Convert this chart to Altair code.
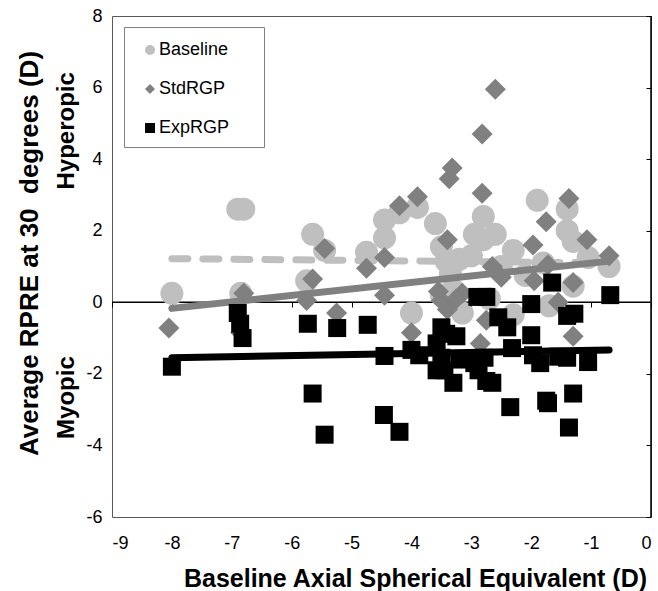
import altair as alt
import pandas as pd

FONT = "Liberation Sans"
NB = "\u00a0"
series_names = ["Baseline", "StdRGP", "ExpRGP"]
series_colors = ["#BFBFBF", "#808080", "#000000"]
series_shapes = ["circle", "diamond", "square"]

baseline_x = [-8.0, -6.9, -6.8, -6.85, -5.65, -5.75, -5.45, -4.75, -4.45, -4.45,
              -4.2, -3.9, -3.6, -3.5, -3.42, -3.35, -3.3, -4.0, -3.15, -2.95,
              -2.8, -2.8, -2.6, -2.5, -2.3, -2.1, -1.9, -1.4, -1.4, -1.3,
              -1.05, -0.7, -1.3, -1.7, -2.3, -3.5, -3.2, -2.7, -1.8, -3.0]
baseline_y = [0.25, 2.6, 2.6, 0.25, 1.9, 0.6, 1.45, 1.4, 2.3, 1.8,
              2.5, 2.65, 2.2, 1.55, 1.15, 0.8, 0.35, -0.3, -0.3, 1.9,
              2.4, 1.75, 1.9, 1.0, 1.45, 0.75, 2.85, 2.6, 2.0, 1.7,
              1.25, 1.0, 0.45, -0.1, -0.35, 0.2, 1.2, 0.1, 1.1, 1.3]

std_x = [-8.05, -6.85, -6.8, -5.65, -5.45, -5.75, -5.25, -4.75, -4.45, -4.45,
         -4.2, -3.9, -3.4, -3.32, -3.37, -2.82, -2.82, -2.6, -4.0, -3.5,
         -3.4, -3.25, -3.15, -2.85, -2.75, -1.75, -1.37, -1.97, -1.07, -0.7,
         -1.72, -1.95, -1.3, -1.55, -1.3, -2.5, -2.65, -3.55]
std_y = [-0.72, -0.85, 0.25, 0.65, 1.5, 0.05, -0.3, 0.95, 1.25, 0.2,
         2.7, 2.95, 1.75, 3.75, 3.45, 4.7, 3.05, 5.95, -0.85, 0.05,
         -0.2, 0.1, 0.25, -1.15, -0.5, 2.25, 2.9, 1.6, 1.75, 1.3,
         1.05, 0.6, 0.55, 0.0, -0.95, 0.7, 1.0, 0.3]

exp_x = [-8.0, -6.9, -6.86, -6.82, -5.73, -5.24, -4.73, -4.45, -5.65, -5.45,
         -4.46, -4.2, -4.0, -3.87, -3.5, -3.42, -3.58, -3.5, -3.58, -3.45,
         -3.3, -3.25, -3.2, -2.88, -2.75, -2.9, -2.75, -0.68, -2.0, -1.4,
         -1.28, -2.0, -2.55, -2.4, -2.32, -2.78, -1.97, -1.85, -1.55, -1.4,
         -1.05, -2.65, -2.35, -1.75, -1.72, -1.3, -1.37, -1.65, -2.95]
exp_y = [-1.8, -0.3, -0.6, -1.0, -0.6, -0.72, -0.63, -1.5, -2.55, -3.7,
         -3.15, -3.62, -1.33, -1.48, -0.7, -0.88, -1.15, -1.55, -1.9, -1.9,
         -2.25, -0.95, -1.6, -1.9, -2.2, 0.15, 0.15, 0.2, -0.05, -0.38,
         -0.32, -0.92, -0.42, -0.7, -1.28, -1.55, -1.48, -1.7, -1.52, -1.55,
         -1.67, -2.25, -2.93, -2.75, -2.82, -2.55, -3.5, 0.55, -1.7]

trend_x = [-8.0, -0.7]
trend_baseline = [1.22, 1.10]
trend_std = [-0.17, 1.15]
trend_exp = [-1.55, -1.33]

x_ticks = [-9, -8, -7, -6, -5, -4, -3, -2, -1, 0]
y_ticks = [-6, -4, -2, 0, 2, 4, 6, 8]

x_title = "Baseline Axial Spherical Equivalent (D)"
y_title_1 = "Average RPRE at 30" + NB + NB + "degrees (D)"
y_title_2 = "Myopic" + NB * 25 + "Hyperopic"

# ---------------------------------------------------------------------------
base_df = pd.DataFrame({"x": baseline_x, "y": baseline_y, "series": "Baseline"})
std_df = pd.DataFrame({"x": std_x, "y": std_y, "series": "StdRGP"})
exp_df = pd.DataFrame({"x": exp_x, "y": exp_y, "series": "ExpRGP"})
tb_df = pd.DataFrame({"x": trend_x, "y": trend_baseline})
ts_df = pd.DataFrame({"x": trend_x, "y": trend_std})
te_df = pd.DataFrame({"x": trend_x, "y": trend_exp})
zero_df = pd.DataFrame({"v": [0]})

x_scale = alt.Scale(domain=[-9, 0], nice=False, zero=False)
y_scale = alt.Scale(domain=[-6, 8], nice=False, zero=False)
color_scale = alt.Scale(domain=series_names, range=series_colors)
shape_scale = alt.Scale(domain=series_names, range=series_shapes)

# an invisible (white) hairline title only serves to give the legend box its width
legend = alt.Legend(
    orient="none", legendX=12, legendY=11,
    title="M" * 72, titleFontSize=2, titleColor="white", titlePadding=2,
    titleLimit=400,
    padding=10, strokeColor="#808080", fillColor="white",
    symbolOffset=7, labelOffset=0, rowPadding=21,
    labelFont=FONT, labelFontSize=18, labelColor="black",
    symbolSize=100, symbolStrokeWidth=0,
)

x_axis_main = alt.Axis(
    values=x_ticks, labelExpr="'' + datum.value", ticks=False, domain=False, grid=False,
    labelFont=FONT, labelFontSize=18, labelColor="black", labelPadding=17,
    title=x_title, titleFont=FONT, titleFontSize=25, titleFontWeight="bold",
    titleColor="black", titleX=303, titleY=69, titleAlign="center",
    titleBaseline="alphabetic",
)
y_axis_main = alt.Axis(
    values=y_ticks, labelExpr="'' + datum.value", ticks=False, domain=False, grid=False,
    labelFont=FONT, labelFontSize=18, labelColor="black", labelPadding=10,
    title=y_title_1, titleFont=FONT, titleFontSize=26, titleFontWeight="bold",
    titleColor="black", titleAngle=270, titleX=-96, titleY=237,
    titleAlign="center", titleBaseline="top",
)
y_axis_second = alt.Axis(
    orient="left", values=y_ticks, labels=False, ticks=False, domain=False, grid=False,
    title=y_title_2, titleFont=FONT, titleFontSize=24, titleFontWeight="bold",
    titleColor="black", titleAngle=270, titleX=-58, titleY=239,
    titleAlign="center", titleBaseline="top",
)
x_axis_ticks = alt.Axis(
    orient="bottom", offset=-215, values=x_ticks, labels=False, domain=False,
    grid=False, ticks=True, tickSize=5, tickWidth=1, tickColor="black", title=None,
)
y_axis_ticks = alt.Axis(
    orient="right", offset=-5, values=y_ticks, labels=False, domain=False,
    grid=False, ticks=True, tickSize=5, tickWidth=1, tickColor="black", title=None,
)

zero_h = alt.Chart(zero_df).mark_rule(color="black", strokeWidth=1.5).encode(
    y=alt.Y("v:Q", scale=y_scale, axis=None))
zero_v = alt.Chart(zero_df).mark_rule(color="black", strokeWidth=1.5).encode(
    x=alt.X("v:Q", scale=x_scale, axis=None))


def points(df, size, main=False):
    return alt.Chart(df).mark_point(filled=True, opacity=1, size=size, strokeWidth=0).encode(
        x=alt.X("x:Q", scale=x_scale, axis=x_axis_main if main else None),
        y=alt.Y("y:Q", scale=y_scale, axis=y_axis_main if main else None),
        color=alt.Color("series:N", scale=color_scale, legend=legend),
        shape=alt.Shape("series:N", scale=shape_scale, legend=legend),
    )


def trend(df, color, dash=None, x_axis=None, y_axis=None):
    kw = dict(color=color, strokeWidth=7, strokeCap="round")
    if dash:
        kw["strokeDash"] = dash
    return alt.Chart(df).mark_line(**kw).encode(
        x=alt.X("x:Q", scale=x_scale, axis=x_axis),
        y=alt.Y("y:Q", scale=y_scale, axis=y_axis),
    )


chart = alt.layer(
    zero_h,
    zero_v,
    points(base_df, 529, main=True),
    trend(tb_df, "#BFBFBF", dash=[16, 15], y_axis=y_axis_second),
    trend(ts_df, "#808080"),
    points(std_df, 441),
    points(exp_df, 324),
    trend(te_df, "#000000", x_axis=x_axis_ticks, y_axis=y_axis_ticks),
).resolve_axis(x="independent", y="independent").properties(
    width=539, height=501,
    padding={"left": 112, "top": 16, "right": 7, "bottom": 74},
    autosize=alt.AutoSizeParams(type="none"),
    background="white",
).configure_view(stroke="#595959", strokeWidth=1)

chart.save("out.html", embed_options={"renderer": "svg", "actions": False})
